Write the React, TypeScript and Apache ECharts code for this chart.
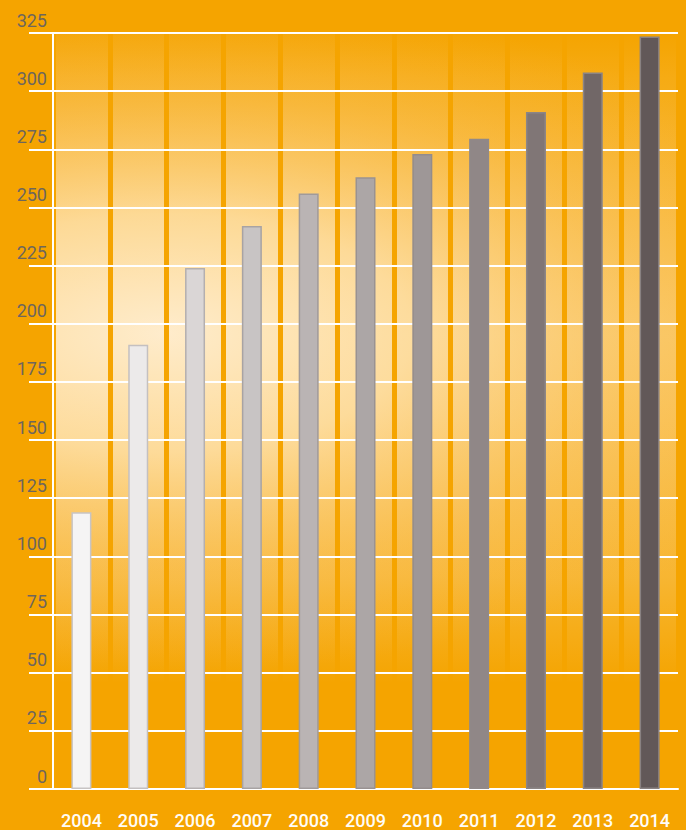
import React, { useEffect, useRef } from "react";
import * as echarts from "echarts";

const years = ["2004", "2005", "2006", "2007", "2008", "2009", "2010", "2011", "2012", "2013", "2014"];
const values = [119, 191, 224, 242, 256, 263, 273, 279.5, 291, 308, 323.5];
const yTicks = { min: 0, max: 325, interval: 25 };

const fills = ["#F5F4F4", "#ECEAEA", "#DAD6D6", "#C8C4C4", "#BAB4B4", "#ACA6A6", "#9E9797", "#908787", "#807676", "#716767", "#625858"];
const borders = ["#C8C4C4", "#C4C0C0", "#B4AFAF", "#A8A3A3", "#A09A9A", "#999292", "#938C8C", "#908989", "#8C8585", "#8B8484", "#898181"];

const BG = "#F5A400";

export default function App() {
  const ref = useRef<HTMLDivElement>(null);
  useEffect(() => {
    if (!ref.current) return;
    const chart = echarts.init(ref.current, null, { renderer: "svg" });
    const gl = 53, gt = 33, gr = 8, gb = 41;
    const W = 686 - gl - gr, H = 830 - gt - gb;
    const sx = 2.1;
    chart.setOption({
      animation: false,
      backgroundColor: BG,
      grid: { left: gl, right: gr, top: gt, bottom: gb, containLabel: false },
      graphic: [
        {
          type: "rect",
          z: -10,
          silent: true,
          x: gl,
          y: gt,
          shape: { x: 0, y: 0, width: W, height: H },
          style: {
            fill: new echarts.graphic.LinearGradient(0, 0, 0, 1, [
              { offset: 0, color: "rgba(255,235,200,0.0)" },
              { offset: 0.06, color: "rgba(255,235,200,0.1)" },
              { offset: 0.4, color: "rgba(255,235,200,0.45)" },
              { offset: 0.72, color: "rgba(255,235,200,0.25)" },
              { offset: 0.86, color: "rgba(255,235,200,0.0)" },
              { offset: 1, color: "rgba(255,235,200,0.0)" },
            ]),
          },
        },
        {
          type: "rect",
          z: -9,
          silent: true,
          x: gl,
          y: gt,
          scaleX: sx,
          shape: { x: 0, y: 0, width: W / sx, height: H },
          style: {
            fill: new echarts.graphic.RadialGradient(110 / sx, 300, 340, [
              { offset: 0, color: "rgba(255,238,210,0.95)" },
              { offset: 0.35, color: "rgba(255,230,185,0.72)" },
              { offset: 0.7, color: "rgba(252,205,125,0.32)" },
              { offset: 1, color: "rgba(250,190,90,0)" },
            ], true),
          },
        },
      ],
      xAxis: {
        type: "category",
        data: years,
        z: 0,
        axisLine: { show: true, lineStyle: { color: "#FFFFFF", width: 2 } },
        axisTick: { show: false },
        axisLabel: {
          color: "#FFFCF6",
          fontFamily: "Roboto",
          fontSize: 18,
          fontWeight: 500,
          margin: 22,
        },
        splitLine: { show: true, lineStyle: { color: BG, width: 5 } },
      },
      yAxis: {
        type: "value",
        min: yTicks.min,
        max: yTicks.max,
        interval: yTicks.interval,
        z: 1,
        axisLine: { show: true, lineStyle: { color: "#FFFFFF", width: 2 } },
        axisTick: { show: true, length: 24, lineStyle: { color: "#FFFFFF", width: 2 } },
        axisLabel: {
          color: "#6E665D",
          fontFamily: "Roboto",
          fontSize: 18,
          margin: 6,
          verticalAlign: "bottom",
          padding: [0, 0, 4, 0],
        },
        splitLine: { show: true, lineStyle: { color: "#FFFFFF", width: 2 } },
      },
      series: [
        {
          type: "bar",
          z: 2,
          barWidth: 20,
          data: values.map((v, i) => ({
            value: v,
            itemStyle: { color: fills[i], borderColor: borders[i], borderWidth: 1.5 },
          })),
        },
      ],
    });
    return () => chart.dispose();
  }, []);
  return <div ref={ref} style={{ width: 686, height: 830, position: "absolute", left: 0, top: 0 }} />;
}
